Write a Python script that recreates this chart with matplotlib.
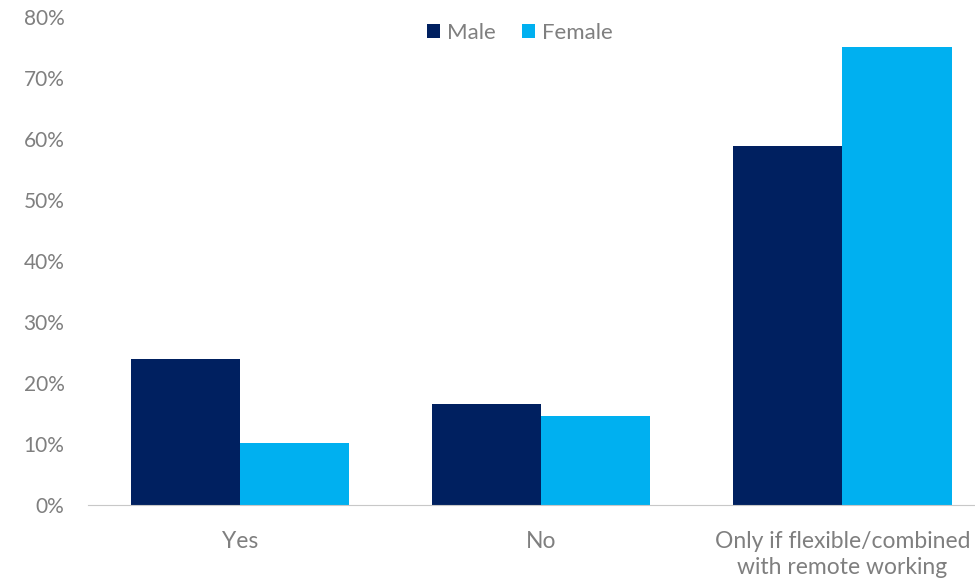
import numpy as np
import matplotlib.pyplot as plt

categories = ["Yes", "No", "Only if flexible/combined\nwith remote working"]
male = [24.0, 16.6, 58.9]
female = [10.2, 14.6, 75.1]
yticks = [0, 10, 20, 30, 40, 50, 60, 70, 80]

plt.rcParams['font.family'] = ['Lato', 'DejaVu Sans']

fig = plt.figure(figsize=(9.75, 5.82), dpi=100)
ax = fig.add_axes([0.0903, 0.1323, 0.9097, 0.8385])

x = np.arange(len(categories))
w = 0.362
ax.bar(x - w / 2, male, w, color="#002060", label="Male")
ax.bar(x + w / 2, female, w, color="#00B0F0", label="Female")

ax.set_ylim(0, 80)
ax.set_xlim(-0.505, 2.44)
ax.set_yticks(yticks)
ax.set_yticklabels([f"{t}%" for t in yticks])
ax.set_xticks(x)
ax.set_xticklabels(categories, linespacing=1.25)

for s in ["top", "right", "left"]:
    ax.spines[s].set_visible(False)
ax.spines["bottom"].set_color("#c8c8c8")
ax.tick_params(axis="both", length=0, colors="#7f7f7f")
ax.tick_params(axis="x", pad=19, labelsize=16.5)
ax.tick_params(axis="y", pad=17, labelsize=15)

ax.legend(loc="center", bbox_to_anchor=(0.533, 0.943), bbox_transform=fig.transFigure,
          ncol=2, frameon=False, fontsize=16, handlelength=0.6, handleheight=0.6,
          handletextpad=0.3, columnspacing=1.2, labelcolor="#7f7f7f")

fig.savefig("out.png", dpi=100)
